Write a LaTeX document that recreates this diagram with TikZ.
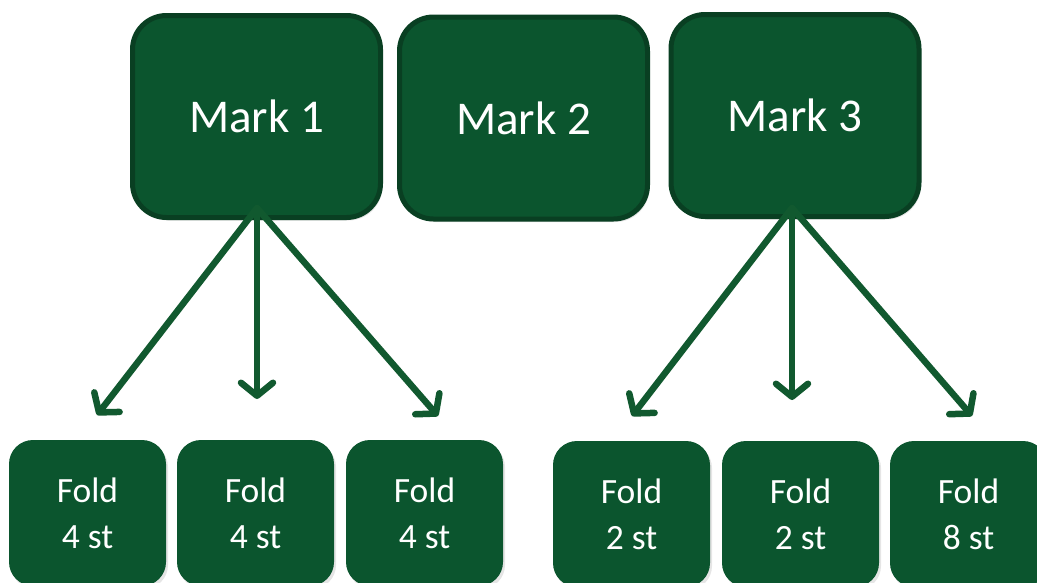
\documentclass[tikz,border=0pt]{standalone}
\usepackage{fontspec}
\setmainfont{Carlito}
\usetikzlibrary{arrows.meta,shadows}
\definecolor{boxfill}{HTML}{0B552E}
\definecolor{boxline}{HTML}{093F22}
\definecolor{arrowc}{HTML}{11592F}
\tikzset{
  markbox/.style={rectangle, rounded corners=34pt, fill=boxfill, draw=boxline, line width=5pt,
    minimum width=248pt, minimum height=202pt, inner sep=0pt, text=white,
    font=\fontsize{47}{54}\selectfont,
    drop shadow={opacity=0.2, shadow xshift=2pt, shadow yshift=-3pt}},
  foldbox/.style={rectangle, rounded corners=24pt, fill=boxfill, draw=none,
    minimum width=157pt, minimum height=146pt, inner sep=0pt, text=white, align=center,
    font=\fontsize{35.5}{46}\selectfont,
    drop shadow={opacity=0.2, shadow xshift=2pt, shadow yshift=-3pt}},
  conn/.style={draw=arrowc, line width=6.5pt, line cap=round,
    -{Straight Barb[length=13pt, width=32pt, line width=6.5pt, round]}}
}
\begin{document}
\begin{tikzpicture}[x=1pt, y=-1pt]
\useasboundingbox (0,0) rectangle (1037,582);
\clip (0,0) rectangle (1037,582);
\fill[white] (0,0) rectangle (1037,582);
% top boxes
\node[markbox] (m1) at (256.5,116.5) {Mark 1};
\node[markbox] (m2) at (523.5,118) {Mark 2};
\node[markbox] (m3) at (795,115.5) {Mark 3};
% bottom boxes
\node[foldbox] (f1) at (87.5,513) {Fold\\4 st};
\node[foldbox] (f2) at (255.5,513) {Fold\\4 st};
\node[foldbox] (f3) at (424.5,513) {Fold\\4 st};
\node[foldbox] (f4) at (631.5,514) {Fold\\2 st};
\node[foldbox] (f5) at (800.5,514) {Fold\\2 st};
\node[foldbox] (f6) at (968.5,514) {Fold\\8 st};
% arrow start and end points
\coordinate (s1) at (257,208);
\coordinate (s3) at (792,208);
\coordinate (e11) at (97,415);
\coordinate (e12) at (257,399);
\coordinate (e13) at (438,416);
\coordinate (e31) at (632,416);
\coordinate (e32) at (792,400);
\coordinate (e33) at (972,416);
\draw[conn] (s1) -- (e11);
\draw[conn] (s1) -- (e12);
\draw[conn] (s1) -- (e13);
\draw[conn] (s3) -- (e31);
\draw[conn] (s3) -- (e32);
\draw[conn] (s3) -- (e33);
\end{tikzpicture}
\end{document}
